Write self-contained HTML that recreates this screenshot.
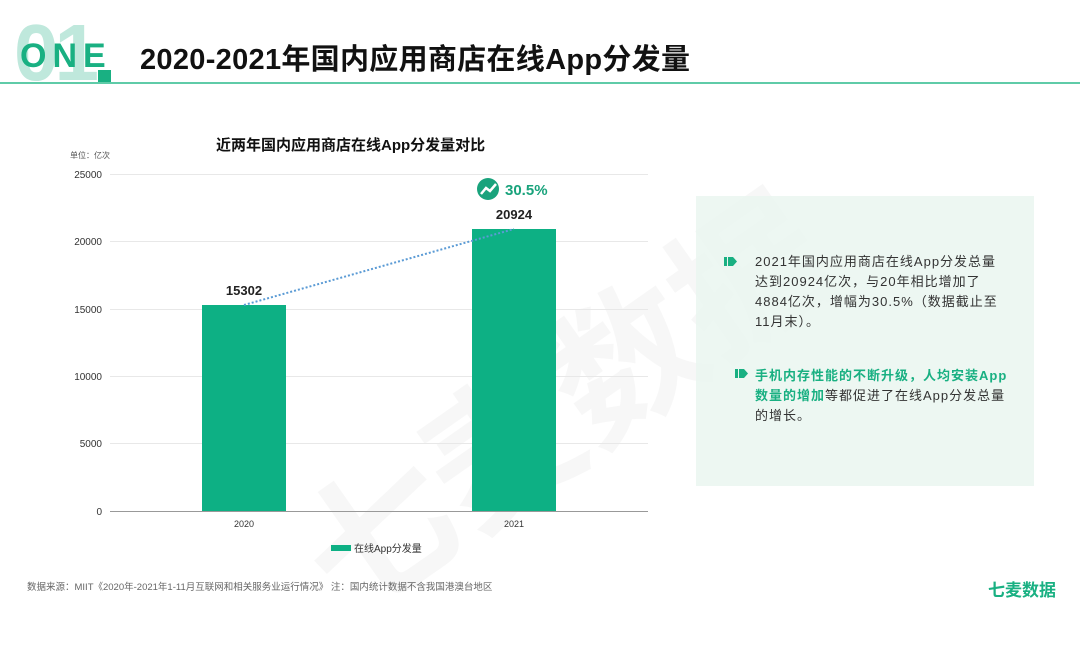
<!DOCTYPE html>
<html><head><meta charset="utf-8"><style>
body{margin:0;width:1080px;height:608px;background:#fff;position:relative;overflow:hidden;font-family:"Liberation Sans","Noto Sans CJK SC",sans-serif}
.a{position:absolute}
.t{font-size:13px;line-height:20px;color:#333;letter-spacing:1px;white-space:nowrap}
</style></head><body>
<div class="a" style="left:14px;top:14px;font-size:80px;font-weight:bold;color:#bfe8dc;line-height:78px;letter-spacing:-4px">01</div>
<div class="a" style="left:20px;top:38px;font-size:34px;font-weight:bold;color:#19b082;letter-spacing:6px;line-height:36px">ONE</div>
<div class="a" style="left:98px;top:70px;width:13px;height:12px;background:#19b082"></div>
<div class="a" style="left:0;top:82px;width:1080px;height:2px;background:#5fcba8"></div>
<div class="a" style="left:140px;top:41px;font-size:29px;font-weight:bold;color:#111;line-height:38px;letter-spacing:0.3px">2020-2021年国内应用商店在线App分发量</div>

<div class="a" style="font-size:150px;color:rgba(0,0,0,0.03);transform:rotate(-35deg);transform-origin:left top;white-space:nowrap;left:250px;top:480px;font-weight:bold">七麦数据</div>

<div class="a" style="left:216px;top:134px;font-size:15px;font-weight:bold;color:#111">近两年国内应用商店在线App分发量对比</div>
<div class="a" style="left:70px;top:150px;font-size:8px;color:#555">单位：亿次</div>
<svg class="a" style="left:0;top:0" width="1080" height="608">
<rect x="696" y="196" width="338" height="290" fill="#eaf6f0" opacity="0.85"/>
<g stroke="#e8e8e8" stroke-width="1">
<line x1="110" x2="648" y1="174.5" y2="174.5"/><line x1="110" x2="648" y1="241.5" y2="241.5"/><line x1="110" x2="648" y1="309.5" y2="309.5"/><line x1="110" x2="648" y1="376.5" y2="376.5"/><line x1="110" x2="648" y1="443.5" y2="443.5"/></g>
<line x1="110" x2="648" y1="511.5" y2="511.5" stroke="#999"/>
<g font-size="10" fill="#333" text-anchor="end" font-family="Liberation Sans,sans-serif">
<text x="102" y="178">25000</text><text x="102" y="245">20000</text><text x="102" y="313">15000</text><text x="102" y="380">10000</text><text x="102" y="447">5000</text><text x="102" y="515">0</text></g>
<rect x="202" y="305" width="84" height="206" fill="#0db084"/>
<rect x="472" y="229" width="84" height="282" fill="#0db084"/>
<line x1="244" y1="305" x2="514" y2="229" stroke="#5b9bd5" stroke-width="2" stroke-dasharray="2,2"/>
<g font-size="13" font-weight="bold" fill="#222" text-anchor="middle" font-family="Liberation Sans,sans-serif">
<text x="244" y="295">15302</text><text x="514" y="219">20924</text></g>
<g font-size="9" fill="#333" text-anchor="middle"><text x="244" y="527">2020</text><text x="514" y="527">2021</text></g>
<circle cx="488" cy="189" r="11" fill="#19a37c"/>
<polyline points="481,194 486,188 490,191 496,184" fill="none" stroke="#fff" stroke-width="2.5"/>
<text x="505" y="195" font-size="15" fill="#19a37c" font-weight="bold" font-family="Liberation Sans,sans-serif">30.5%</text>
<rect x="331" y="545" width="20" height="6" fill="#0db084"/>
<text x="354" y="552" font-size="10" fill="#333">在线App分发量</text>
<path d="M724 257h3v9h-3zM728 257h5l4 4.5-4 4.5h-5z" fill="#19b082"/>
<path d="M735 369h3v9h-3zM739 369h5l4 4.5-4 4.5h-5z" fill="#19b082"/>
</svg>
<div class="a t" style="left:755px;top:252px">2021年国内应用商店在线App分发总量<br>达到20924亿次，与20年相比增加了<br>4884亿次，增幅为30.5%（数据截止至<br>11月末）。</div>
<div class="a t" style="left:755px;top:366px"><b style="color:#19b082">手机内存性能的不断升级，人均安装App<br>数量的增加</b>等都促进了在线App分发总量<br>的增长。</div>
<div class="a" style="left:27px;top:579px;font-size:9.5px;color:#666">数据来源：MIIT《2020年-2021年1-11月互联网和相关服务业运行情况》 注：国内统计数据不含我国港澳台地区</div>
<div class="a" style="left:988px;top:576px;font-size:17px;color:#19b082;font-weight:bold">七麦数据</div>
</body></html>
